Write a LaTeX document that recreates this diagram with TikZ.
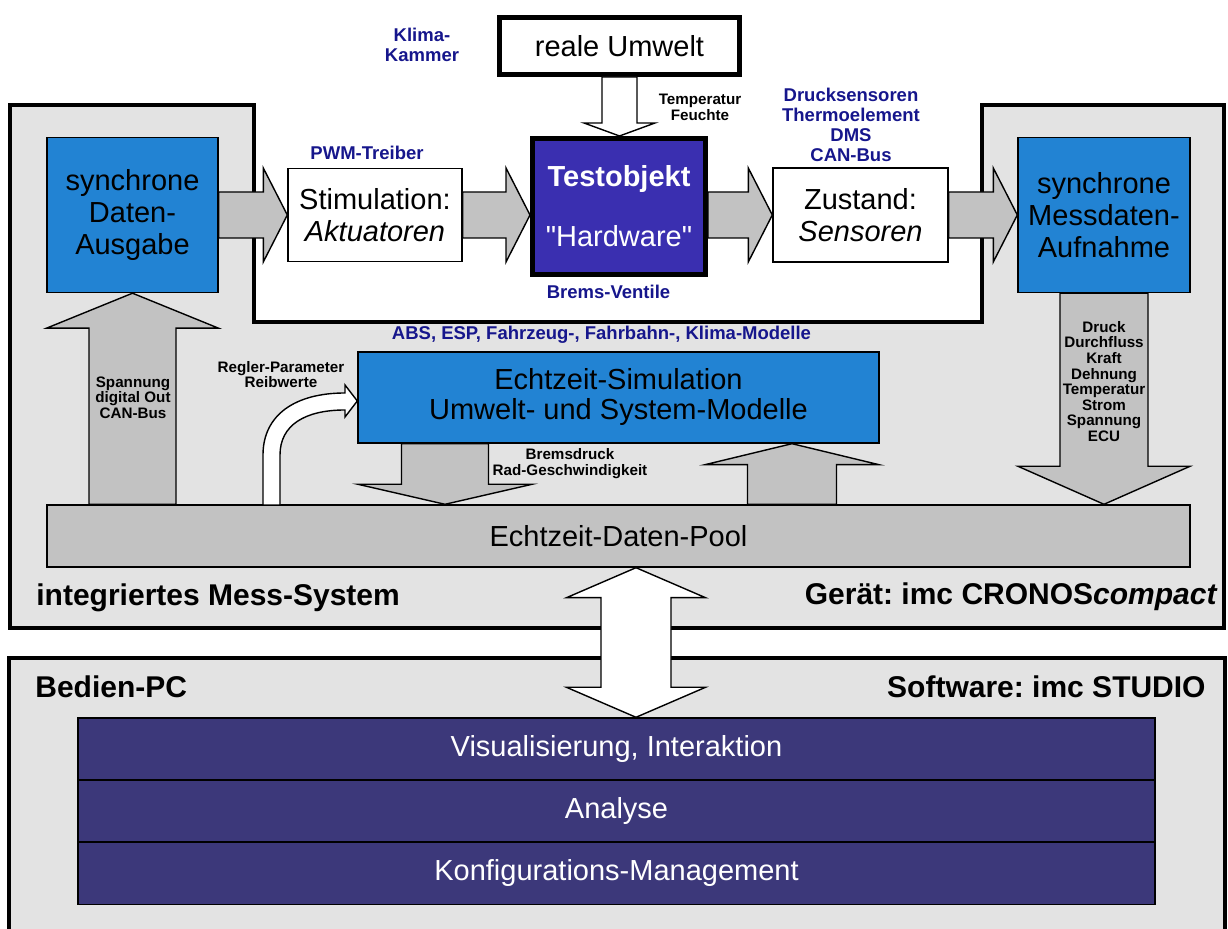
\documentclass[tikz,border=0pt]{standalone}
\usepackage{fontspec}
\setmainfont{Liberation Sans}
\usepackage{tikz}
\usetikzlibrary{calc}
\frenchspacing

\definecolor{panelgray}{RGB}{227,227,227}
\definecolor{arrowgray}{RGB}{194,194,194}
\definecolor{boxblue}{RGB}{34,131,211}
\definecolor{testblue}{RGB}{58,47,176}
\definecolor{pcpurple}{RGB}{60,56,122}
\definecolor{labelblue}{RGB}{22,22,140}

\begin{document}
\begin{tikzpicture}[x=0.5pt, y=-0.5pt,
    box/.style={draw, line width=0.7pt, inner sep=0pt, align=center, font=\fontsize{14.5pt}{16pt}\selectfont},
    bluelbl/.style={text=labelblue, inner sep=0pt, align=center, font=\bfseries\fontsize{9.25pt}{10pt}\selectfont},
    smalllbl/.style={inner sep=0pt, align=center, font=\bfseries\fontsize{7.6pt}{7.8pt}\selectfont},
    headline/.style={inner sep=0pt, font=\bfseries\fontsize{15pt}{18pt}\selectfont},
    fat/.style n args={3}{draw, line width=0.7pt, fill=arrowgray, to path={
        ($(\tikztostart)!#1!90:(\tikztotarget)$)
        -- ($(\tikztotarget)!#3!(\tikztostart)!#1!-90:(\tikztostart)$)
        -- ($(\tikztotarget)!#3!(\tikztostart)!#2!-90:(\tikztostart)$)
        -- (\tikztotarget)
        -- ($(\tikztotarget)!#3!(\tikztostart)!#2!90:(\tikztostart)$)
        -- ($(\tikztotarget)!#3!(\tikztostart)!#1!90:(\tikztostart)$)
        -- ($(\tikztostart)!#1!-90:(\tikztotarget)$) -- cycle}},
    fatboth/.style n args={3}{draw, line width=0.7pt, fill=white, to path={
        (\tikztostart)
        -- ($(\tikztostart)!#3!(\tikztotarget)!#2!90:(\tikztotarget)$)
        -- ($(\tikztostart)!#3!(\tikztotarget)!#1!90:(\tikztotarget)$)
        -- ($(\tikztotarget)!#3!(\tikztostart)!#1!-90:(\tikztostart)$)
        -- ($(\tikztotarget)!#3!(\tikztostart)!#2!-90:(\tikztostart)$)
        -- (\tikztotarget)
        -- ($(\tikztotarget)!#3!(\tikztostart)!#2!90:(\tikztostart)$)
        -- ($(\tikztotarget)!#3!(\tikztostart)!#1!90:(\tikztostart)$)
        -- ($(\tikztostart)!#3!(\tikztotarget)!#1!-90:(\tikztotarget)$)
        -- ($(\tikztostart)!#3!(\tikztotarget)!#2!-90:(\tikztotarget)$) -- cycle}}]
    \useasboundingbox (0,0) rectangle (1228,929);
    \clip (0,0) rectangle (1228,929);

    % Messgeraet mit offenem Pruefstand oben
    \draw[fill=panelgray, line width=2pt] (10,105) -- (254,105) -- (254,322) -- (982,322)
        -- (982,105) -- (1224,105) -- (1224,628) -- (10,628) -- cycle;
    % Bedien-PC
    \draw[fill=panelgray, line width=2pt] (9,658) rectangle (1225,960);

    % Pruefling und Umgebung
    \node[box, line width=2.5pt, fill=white, minimum width=120pt, minimum height=28.5pt] (umw) at (619.5,46) {reale Umwelt};
    \node[box, line width=2.5pt, fill=testblue, text=white, minimum width=86.5pt, minimum height=68pt] (test) at (619,206.5)
        {{\bfseries Testobjekt}\\[14pt]\textquotedbl Hardware\textquotedbl};
    \node[box, fill=white, minimum width=87pt, minimum height=46.5pt] (stim) at (375,215) {Stimulation:\\\textit{Aktuatoren}};
    \node[box, fill=white, minimum width=87.5pt, minimum height=47pt] (zust) at (860.5,215) {Zustand:\\\textit{Sensoren}};
    \node[box, fill=boxblue, minimum width=85.5pt, minimum height=77.5pt] (daus) at (132.5,215) {synchrone\\Daten-\\Ausgabe};
    \node[box, fill=boxblue, minimum width=86pt, minimum height=77.5pt] (mauf) at (1104,215) {synchrone\\Messdaten-\\Aufnahme};

    % Simulation und Daten-Pool
    \node[box, fill=boxblue, minimum width=260.5pt, minimum height=45.5pt, font=\fontsize{14.5pt}{15pt}\selectfont] (sim) at (618.5,397.5)
        {Echtzeit-Simulation\\Umwelt- und System-Modelle};
    \node[box, fill=arrowgray, minimum width=571.5pt, minimum height=31pt] (pool) at (618.5,536) {Echtzeit-Daten-Pool};

    % Software-Schichten
    \node[box, fill=pcpurple, text=white, minimum width=538.5pt, minimum height=31pt] (vis) at (616.5,749) {Visualisierung, Interaktion};
    \node[box, fill=pcpurple, text=white, minimum width=538.5pt, minimum height=31pt] (ana) at (616.5,811) {Analyse};
    \node[box, fill=pcpurple, text=white, minimum width=538.5pt, minimum height=31pt] (konf) at (616.5,873.5) {Konfigurations-Management};

    % Blockpfeile
    \coordinate (bd) at (445,0);
    \coordinate (bu) at (792,0);
    \coordinate (bus) at (636,0);
    \draw[fat={11.5pt}{23.5pt}{12pt}] (daus.east) to (stim.west);
    \draw[fat={11.5pt}{23.5pt}{12pt}] (stim.east) to (test.west |- stim.east);
    \draw[fat={11.5pt}{23.5pt}{12pt}] (test.east |- zust.west) to (zust.west);
    \draw[fat={11.5pt}{23.5pt}{12pt}] (zust.east) to (mauf.west);
    \draw[fat={21.75pt}{43pt}{17.5pt}] (daus.south |- pool.north) to (daus.south);
    \draw[fat={22pt}{43pt}{19pt}] (mauf.south) to (mauf.south |- pool.north);
    \draw[fat={21.75pt}{43.5pt}{10pt}] (bd |- sim.south) to (bd |- pool.north);
    \draw[fat={22.25pt}{43.5pt}{10.5pt}] (bu |- pool.north) to (bu |- sim.south);
    \draw[fat={8.75pt}{17.75pt}{6.5pt}, fill=white] (umw.south) to (umw.south |- test.north);
    \draw[fatboth={17.5pt}{34.75pt}{15pt}] (bus |- pool.south) to (bus |- vis.north);
    % gebogener Pfeil zur Simulation
    \draw[fill=white, line width=0.7pt] (263,505) -- (263,455) .. controls (263,415) and (295,393) .. (345,393)
        -- (345,385) -- (sim.west |- 0,401) -- (345,417) -- (345,410)
        .. controls (305,410) and (280,425) .. (280,455) -- (280,505) -- cycle;

    % Beschriftungen
    \node[bluelbl] (klima) at (422,45) {Klima-\\Kammer};
    \node[smalllbl] (tf) at (700,107.5) {Temperatur\\Feuchte};
    \node[bluelbl] (pwm) at (367,153) {PWM-Treiber};
    \node[bluelbl] (sens) at (851,125) {Drucksensoren\\Thermoelement\\DMS\\CAN-Bus};
    \node[bluelbl] (ventile) at (608.5,292) {Brems-Ventile};
    \node[bluelbl] (models) at (601.5,335) {ABS, ESP, Fahrzeug-, Fahrbahn-, Klima-Modelle};
    \node[smalllbl] (regler) at (281,374.5) {Regler-Parameter\\Reibwerte};
    \node[smalllbl] (spann) at (133,397.5) {Spannung\\digital Out\\CAN-Bus};
    \node[smalllbl] (bdruck) at (570,463.5) {Bremsdruck\\Rad-Geschwindigkeit};
    \node[smalllbl] (mess) at (1104,381.5) {Druck\\Durchfluss\\Kraft\\Dehnung\\Temperatur\\Strom\\Spannung\\ECU};
    \node[headline, anchor=west] (ims) at (36,598) {integriertes Mess-System};
    \node[headline, anchor=east] (geraet) at (1218,597) {Gerät: imc CRONOS\textit{compact}};
    \node[headline, anchor=west] (bpc) at (35,687) {Bedien-PC};
    \node[headline, anchor=east] (sw) at (1206,687) {Software: imc STUDIO};
\end{tikzpicture}
\end{document}
